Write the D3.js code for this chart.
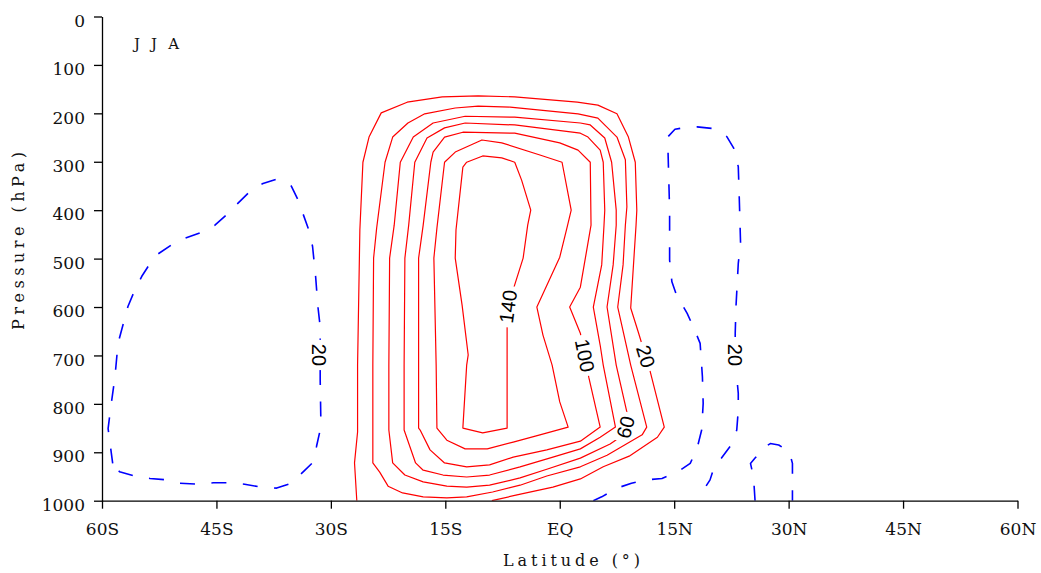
<!DOCTYPE html>
<html><head><meta charset="utf-8">
<script src="https://cdn.jsdelivr.net/npm/d3@7"></script>
<style>body{margin:0;background:#fff}</style>
</head><body>
<svg id="chart" width="1041" height="573"></svg>
<script>
// ---------- data ----------
const latTicks = [-60, -45, -30, -15, 0, 15, 30, 45, 60];
const latTickLabels = ["60S", "45S", "30S", "15S", "EQ", "15N", "30N", "45N", "60N"];
const pressureTicks = [0, 100, 200, 300, 400, 500, 600, 700, 800, 900, 1000];
const seasonLabel = "JJA";
const xTitle = "Latitude (\u00B0)";
const yTitle = "Pressure (hPa)";

// contour polylines, points are [latitude, pressure hPa]
const pos20 = [[-26.6,1000],[-26.9,922],[-26.5,858],[-26.5,720],[-26.2,441],[-25.8,301],[-25.0,249],[-23.4,199],[-20.0,177],[-15.4,166],[-10.7,164],[-5.9,166],[2.3,177],[5.0,183],[7.5,201],[9.0,249],[9.9,301],[10.1,400],[10.0,431],[9.3,602],[10.3,652],[11.8,730],[13.7,848],[12.8,869],[9.1,908],[5.7,930],[2.7,955],[-0.9,972],[-5.6,988],[-8.9,1000]];
const pos40 = [[-24.5,922],[-24.5,720],[-24.4,499],[-24.0,437],[-22.9,301],[-21.9,249],[-19.9,220],[-17.7,201],[-13.7,189],[-10.7,185],[-6.5,187],[2.4,201],[5.0,210],[7.5,249],[8.6,296],[8.8,393],[8.6,431],[8.3,513],[7.6,600],[9.3,720],[11.4,848],[10.8,864],[6.2,906],[2.7,930],[-1.7,949],[-5.2,968],[-8.8,982],[-12.2,992],[-14.8,994],[-17.9,992],[-20.6,984],[-22.5,970],[-23.6,941]];
const pos60 = [[-22.4,854],[-22.4,720],[-22.3,499],[-21.7,431],[-20.9,301],[-19.2,249],[-16.6,220],[-12.4,206],[-5.9,208],[2.7,220],[4.0,224],[5.9,251],[6.8,301],[7.4,400],[7.4,431],[7.0,513],[6.2,600],[7.4,720],[8.8,817],[7.9,869],[6.6,883],[2.7,912],[-1.7,935],[-5.2,953],[-9.2,968],[-12.2,972],[-14.8,970],[-17.9,961],[-20.3,947],[-21.9,922]];
const pos80 = [[-20.4,854],[-20.4,720],[-20.3,499],[-19.8,431],[-19.0,301],[-17.4,251],[-15.1,230],[-12.4,220],[-5.9,224],[2.7,241],[3.7,249],[5.3,276],[5.7,301],[5.9,400],[5.8,431],[5.5,513],[4.4,600],[5.3,679],[5.7,720],[7.3,848],[5.3,869],[2.7,893],[-0.9,910],[-5.2,930],[-9.2,947],[-12.2,951],[-15.3,947],[-17.9,937],[-18.9,922]];
const pos100 = [[-18.5,850],[-18.5,720],[-18.5,499],[-17.9,431],[-16.9,301],[-16.6,280],[-15.1,249],[-12.7,239],[-5.9,241],[0.0,261],[2.4,276],[4.0,301],[4.1,431],[2.7,559],[1.3,600],[2.7,654],[3.8,745],[5.3,848],[2.7,877],[-1.7,895],[-6.1,910],[-9.2,926],[-12.2,930],[-15.1,922],[-17.0,895],[-18.3,854]];
const pos120 = [[-16.1,850],[-16.2,720],[-16.5,499],[-16.1,437],[-15.1,301],[-13.7,280],[-10.2,255],[-7.6,261],[-2.6,286],[0.3,301],[1.5,400],[1.0,433],[0.0,497],[-3.0,600],[-2.2,658],[-1.0,720],[0.0,796],[1.1,848],[-2.6,864],[-6.1,879],[-9.5,893],[-12.4,893],[-14.8,875]];
const pos140 = [[-12.7,850],[-12.2,720],[-12.0,699],[-12.8,596],[-13.7,499],[-13.6,441],[-12.7,311],[-12.2,301],[-10.1,288],[-7.6,292],[-5.9,301],[-5.0,338],[-3.8,400],[-4.2,431],[-4.8,499],[-6.0,559],[-6.5,596],[-6.9,643],[-6.9,850],[-10.1,860]];
const negWest = [[-58.6,923],[-59.2,851],[-58.9,813],[-58.3,744],[-57.9,675],[-57.2,634],[-56.6,599],[-55.7,565],[-54.8,537],[-53.7,510],[-52.9,493],[-50.9,472],[-49.1,458],[-47.0,446],[-45.2,431],[-43.5,407],[-42.2,386],[-40.2,355],[-38.9,345],[-37.1,336],[-35.2,350],[-34.3,379],[-32.8,445],[-32.4,475],[-32.0,537],[-31.7,599],[-31.4,641],[-31.4,751],[-31.3,847],[-31.9,889],[-32.5,923],[-33.6,940],[-35.2,964],[-37.1,974],[-39.1,972],[-41.3,966],[-43.2,963],[-45.4,963],[-47.4,966],[-49.8,964],[-51.5,957],[-53.7,954],[-55.7,949],[-57.7,940]];
const negEast = [[4.4,1000],[5.5,992],[7.5,974],[9.4,964],[11.4,957],[13.4,954],[15.5,940],[17.1,923],[18.0,892],[18.6,854],[18.8,799],[18.7,744],[18.4,675],[17.7,648],[16.7,613],[15.3,575],[14.7,548],[14.4,503],[14.4,400],[14.2,283],[14.2,248],[15.1,233],[15.8,231],[18.0,228],[19.9,231],[21.9,248],[22.8,272],[23.4,310],[23.5,358],[23.7,468],[23.4,510],[23.1,599],[23.0,654],[23.0,699],[23.2,744],[23.4,778],[23.4,813],[23.2,854],[22.6,882],[21.2,912],[20.1,937],[19.7,957],[19.0,974],[18.7,1000]];
const negBump = [[25.6,1000],[25.4,951],[25.0,923],[25.6,912],[26.9,889],[27.6,882],[28.7,885],[30.1,899],[30.5,923],[30.5,1000]];

const contourLines  = [pos20, pos40, pos60, pos80, pos100, pos120, pos140, negWest, negEast, negBump];
const contourLevels = [20, 40, 60, 80, 100, 120, 140, -20, -20, -20];
const contourClosed = [false, true, true, true, true, true, true, true, false, false];

// inline labels: which line, and where [lat, pressure]
const labelLine = [0, 2, 4, 6, 7, 8];
const labelLat  = [11.3, 8.6, 3.3, -6.8, -31.5, 23.0];
const labelP    = [702, 848, 700, 599, 699, 699];

// ---------- drawing ----------
const svg = d3.select("#chart");
const x = d3.scaleLinear().domain([-60, 60]).range([102, 1017.5]);
const y = d3.scaleLinear().domain([0, 1000]).range([16.5, 500.7]);

const defs = svg.append("defs");
defs.append("clipPath").attr("id", "plotclip")
  .append("rect").attr("x", x(-60)).attr("y", y(0))
  .attr("width", x(60) - x(-60)).attr("height", y(1000) - y(0));

const line = d3.line().x(d => x(d[0])).y(d => y(d[1]));
const lineClosed = d3.line().x(d => x(d[0])).y(d => y(d[1])).curve(d3.curveLinearClosed);

const labelFont = "'Liberation Sans', Arial, sans-serif";
const labelSize = 20;

// measure helper
const meas = svg.append("text").attr("font-family", labelFont).attr("font-size", labelSize).attr("visibility", "hidden");
function textWidth(t) { meas.text(t); return meas.node().getComputedTextLength(); }

// label geometry: angle from the nearest segment of its line
const labelInfo = labelLine.map((li, k) => {
  const pts = contourLines[li].map(d => [x(d[0]), y(d[1])]);
  if (contourClosed[li]) pts.push(pts[0]);
  const px = x(labelLat[k]), py = y(labelP[k]);
  let best = Infinity, ang = 0;
  for (let i = 0; i < pts.length - 1; i++) {
    const [ax, ay] = pts[i], [bx, by] = pts[i + 1];
    const dx = bx - ax, dy = by - ay;
    const L2 = dx * dx + dy * dy || 1;
    let t = ((px - ax) * dx + (py - ay) * dy) / L2;
    t = Math.max(0, Math.min(1, t));
    const qx = ax + t * dx - px, qy = ay + t * dy - py;
    const dist = qx * qx + qy * qy;
    if (dist < best) { best = dist; ang = Math.atan2(dy, dx) * 180 / Math.PI; }
  }
  if (ang > 90) ang -= 180;
  if (ang <= -90) ang += 180;
  const txt = String(Math.abs(contourLevels[li]));
  return { li, px, py, ang, txt, w: textWidth(txt) };
});
meas.remove();

// masks that open a gap in each labelled line
labelInfo.forEach((lb, k) => {
  const m = defs.append("mask").attr("id", "gap" + lb.li).attr("maskUnits", "userSpaceOnUse")
    .attr("x", 0).attr("y", 0).attr("width", 1041).attr("height", 573);
  m.append("rect").attr("x", 0).attr("y", 0).attr("width", 1041).attr("height", 573).attr("fill", "white");
  m.append("rect")
    .attr("x", -lb.w / 2 - 4).attr("y", -9).attr("width", lb.w + 8).attr("height", 18)
    .attr("transform", `translate(${lb.px},${lb.py}) rotate(${lb.ang})`)
    .attr("fill", "black");
});

const gC = svg.append("g").attr("clip-path", "url(#plotclip)");
contourLines.forEach((pts, i) => {
  const neg = contourLevels[i] < 0;
  const hasLabel = labelLine.includes(i);
  gC.append("path")
    .attr("d", contourClosed[i] ? lineClosed(pts) : line(pts))
    .attr("fill", "none")
    .attr("stroke", neg ? "#0000ff" : "#ff0000")
    .attr("stroke-width", neg ? 1.6 : 1.2)
    .attr("stroke-dasharray", neg ? "15,16.5" : null)
    .attr("stroke-linejoin", "round")
    .attr("mask", hasLabel ? `url(#gap${i})` : null);
});

svg.append("g").selectAll("text").data(labelInfo).join("text")
  .attr("transform", d => `translate(${d.px},${d.py}) rotate(${d.ang})`)
  .attr("text-anchor", "middle")
  .attr("dy", "0.36em")
  .attr("font-family", labelFont)
  .attr("font-size", labelSize)
  .attr("fill", "#000")
  .text(d => d.txt);

// axes
const tickFont = "'DejaVu Serif', serif";
const yAxis = d3.axisLeft(y).tickValues(pressureTicks).tickFormat(d3.format("d"))
  .tickSize(8).tickSizeOuter(0).tickPadding(9);
const xAxis = d3.axisBottom(x).tickValues(latTicks).tickFormat((d, i) => latTickLabels[i])
  .tickSize(8).tickSizeOuter(0).tickPadding(14);

const gy = svg.append("g").attr("transform", `translate(${x(-60)},0)`).call(yAxis);
const gx = svg.append("g").attr("transform", `translate(0,${y(1000)})`).call(xAxis);
[gx, gy].forEach(g => {
  g.select(".domain").attr("stroke", "#000").attr("stroke-width", 1.3);
  g.selectAll(".tick line").attr("stroke", "#000").attr("stroke-width", 1.3);
  g.selectAll(".tick text").attr("font-family", tickFont).attr("font-size", 17).attr("fill", "#111");
});
gy.selectAll(".tick text").attr("dy", "0.57em");

// titles
svg.append("text")
  .attr("x", 503).attr("y", 566)
  .attr("font-family", tickFont).attr("font-size", 16).attr("fill", "#111")
  .attr("textLength", 137).attr("lengthAdjust", "spacing")
  .text(xTitle);

svg.append("text")
  .attr("transform", "translate(24,330) rotate(-90)")
  .attr("font-family", tickFont).attr("font-size", 16).attr("fill", "#111")
  .attr("textLength", 178).attr("lengthAdjust", "spacing")
  .text(yTitle);

svg.append("text")
  .attr("x", 134).attr("y", 49)
  .attr("font-family", tickFont).attr("font-size", 15).attr("fill", "#111")
  .attr("textLength", 45).attr("lengthAdjust", "spacing")
  .text(seasonLabel);
</script>
</body></html>
